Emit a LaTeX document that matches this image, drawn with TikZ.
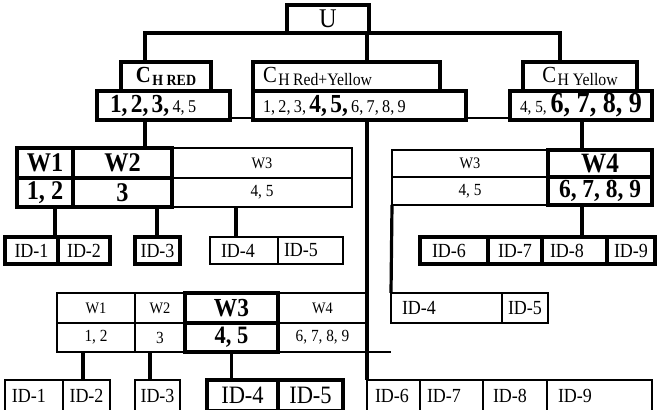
\documentclass[tikz,border=0pt]{standalone}
\usepackage{fontspec}
\setmainfont{Liberation Serif}[FakeStretch=0.9]
\newcommand\myfs[1]{\fontsize{#1}{#1}\selectfont}
\tikzset{
  thk/.style={line width=3.2pt},
  thn/.style={line width=1.3pt},
  bx/.style={draw, rectangle, inner sep=0pt, outer sep=0pt, anchor=north west},
  tb/.style={bx, thk},
  nb/.style={bx, thn},
  lal/.style={align=left, inner xsep=#1}
}
\begin{document}
\begin{tikzpicture}[x=1pt,y=-1pt]
\useasboundingbox (0,0) rectangle (657,410);
% helper x positions
\coordinate (xL) at (145,0);
\coordinate (xM) at (367,0);
\coordinate (xR) at (560,0);
\coordinate (xY) at (582,0);
\coordinate (xa) at (55,0);
\coordinate (xb) at (157,0);
\coordinate (xc) at (236,0);
\coordinate (xd) at (83,0);
\coordinate (xe) at (150,0);

% top
\node[tb, minimum width=82, minimum height=28] (U) at (287,5) {\myfs{27}U};

\node[tb, minimum width=90, minimum height=29] (chrT) at (121,62)
  {\myfs{23}\bfseries C\kern1.5pt\raisebox{-3pt}{\myfs{15.5}H RED}};
\node[tb, minimum height=29, lal=13pt, text width=107] (chrB) at (97,91)
  {{\myfs{26}\bfseries 1, 2, 3, }{\myfs{18}4, 5}};

\node[tb, minimum height=29, lal=10pt, text width=167] (cryT) at (253,62)
  {\myfs{23}C\kern1.5pt\raisebox{-3pt}{\myfs{17.5}H Red+Yellow}};
\node[tb, minimum height=29, lal=10pt, text width=193] (cryB) at (253,91)
  {{\myfs{18}1, 2, 3, }{\myfs{26}\bfseries 4, 5, }{\myfs{18}6, 7, 8, 9}};

\node[tb, minimum width=114, minimum height=29] (chyT) at (523,62)
  {\myfs{23}C\kern1.5pt\raisebox{-3pt}{\myfs{17.5}H Yellow}};
\node[tb, minimum width=142, minimum height=29] (chyB) at (510,91)
  {{\myfs{17}4, 5, }{\myfs{29}\bfseries 6, 7, 8, 9}};

% left table
\node[nb, minimum width=180, minimum height=30] (lW3) at (172,148) {\myfs{16}W3};
\node[nb, minimum width=180, minimum height=29] (lN3) at (172,178) {\myfs{17}4, 5};
\node[tb, minimum width=56, minimum height=30] (lW1) at (17,148) {\myfs{27}\bfseries W1};
\node[tb, minimum width=99, minimum height=30] (lW2) at (73,148) {\myfs{27}\bfseries W2};
\node[tb, minimum width=56, minimum height=29] (lN1) at (17,178) {\myfs{27}\bfseries 1, 2};
\node[tb, minimum width=99, minimum height=29] (lN2) at (73,178) {\myfs{27}\bfseries 3};

% right table
\node[nb, minimum width=156, minimum height=27] (rW3) at (392,150) {\myfs{16}W3};
\node[nb, minimum width=156, minimum height=28] (rN3) at (392,177) {\myfs{17}4, 5};
\node[tb, minimum width=104, minimum height=27] (rW4) at (548,150) {\myfs{28}\bfseries W4};
\node[tb, minimum width=104, minimum height=28] (rN4) at (548,177) {\myfs{26}\bfseries 6, 7, 8, 9};

% bottom table
\node[nb, minimum width=78, minimum height=30] (bW1) at (57,293) {\myfs{16}W1};
\node[nb, minimum width=50, minimum height=30] (bW2) at (135,293) {\myfs{16}W2};
\node[nb, minimum width=89, minimum height=30] (bW4) at (278,293) {\myfs{16}W4};
\node[nb, minimum width=78, minimum height=29] (bN1) at (57,323) {\myfs{17}1, 2};
\node[nb, minimum width=50, minimum height=29] (bN2) at (135,323) {\myfs{17}3};
\node[nb, minimum width=89, minimum height=29] (bN4) at (278,323) {\myfs{17}6, 7, 8, 9};
\node[tb, minimum width=93, minimum height=30] (bW3) at (185,293) {\myfs{26}\bfseries W3};
\node[tb, minimum width=93, minimum height=29] (bN3) at (185,323) {\myfs{25}\bfseries 4, 5};

% ID row upper left
\node[tb, minimum width=53, minimum height=27] (idA1) at (5,237) {\myfs{20}ID-1};
\node[tb, minimum width=52, minimum height=27] (idA2) at (58,237) {\myfs{20}ID-2};
\node[tb, minimum width=45, minimum height=27] (idA3) at (135,237) {\myfs{20}ID-3};
\node[nb, minimum height=27, lal=11pt, text width=46] (idA4) at (210,237) {\myfs{20}ID-4};
\node[nb, minimum height=27, lal=6pt, text width=53] (idA5) at (278,237) {\myfs{20}ID-5};

% ID row upper right
\node[tb, minimum height=27, lal=12pt, text width=44] (idB6) at (420,237) {\myfs{20}ID-6};
\node[tb, minimum height=27, lal=10pt, text width=34] (idB7) at (488,237) {\myfs{20}ID-7};
\node[tb, minimum height=27, lal=8pt, text width=49] (idB8) at (542,237) {\myfs{20}ID-8};
\node[tb, minimum height=27, lal=7pt, text width=34] (idB9) at (607,237) {\myfs{20}ID-9};

% ID row middle
\node[nb, minimum height=30, lal=11pt, text width=89] (idM4) at (391,293) {\myfs{20}ID-4};
\node[nb, minimum height=30, lal=6pt, text width=34] (idM5) at (502,293) {\myfs{20}ID-5};

% ID row bottom
\node[nb, minimum height=31, lal=7pt, text width=44] (idC1) at (5,380) {\myfs{20}ID-1};
\node[nb, minimum width=47, minimum height=31] (idC2) at (63,380) {\myfs{20}ID-2};
\node[nb, minimum width=45, minimum height=31] (idC3) at (135,380) {\myfs{20}ID-3};
\node[tb, minimum width=71, minimum height=31] (idC4) at (207,380) {\myfs{25}ID-4};
\node[tb, minimum width=65, minimum height=31] (idC5) at (278,380) {\myfs{25}ID-5};
\node[nb, minimum height=31, lal=8pt, text width=37] (idC6) at (367,380) {\myfs{20}ID-6};
\node[nb, minimum height=31, lal=7pt, text width=49] (idC7) at (420,380) {\myfs{20}ID-7};
\node[nb, minimum height=31, lal=10pt, text width=44] (idC8) at (483,380) {\myfs{20}ID-8};
\node[nb, minimum height=31, lal=11pt, text width=83] (idC9) at (547,380) {\myfs{20}ID-9};

% connectors
\draw[thk] (chrT.north -| xL) |- (U.south) -| (chyT.north -| xR);
\draw[thk] (U.south -| xM) -- (cryT.north -| xM);
\draw[thn] ([yshift=2pt]chrB.south east) -- ([yshift=2pt]cryB.south west);
\draw[thn] ([yshift=2pt]cryB.south east) -- ([yshift=2pt]chyB.south west);
\draw[thk] (chrB.south -| xL) -- (lW2.north -| xL);
\draw[thk] (lN1.south -| xa) -- (idA1.north -| xa);
\draw[thk] (lN2.south -| xb) -- (idA3.north -| xb);
\draw[thk] (lN3.south -| xc) -- (idA4.north -| xc);
\draw[thk] (chyB.south -| xY) -- (rW4.north -| xY);
\draw[thk] (rN4.south -| xY) -- (idB8.north -| xY);
\draw[thk] (rN3.south west) -- (idM4.north west);
\draw[thk] (cryB.south -| xM) -- (idC6.north west);
\draw[thn] (bN4.south east) -- (bN4.south east -| idM4.west);
\draw[thk] (bN1.south -| xd) -- (idC2.north -| xd);
\draw[thk] (bN2.south -| xe) -- (idC3.north -| xe);
\draw[thk] (bN3.south) -- (bN3.south |- idC4.north);
\end{tikzpicture}
\end{document}
